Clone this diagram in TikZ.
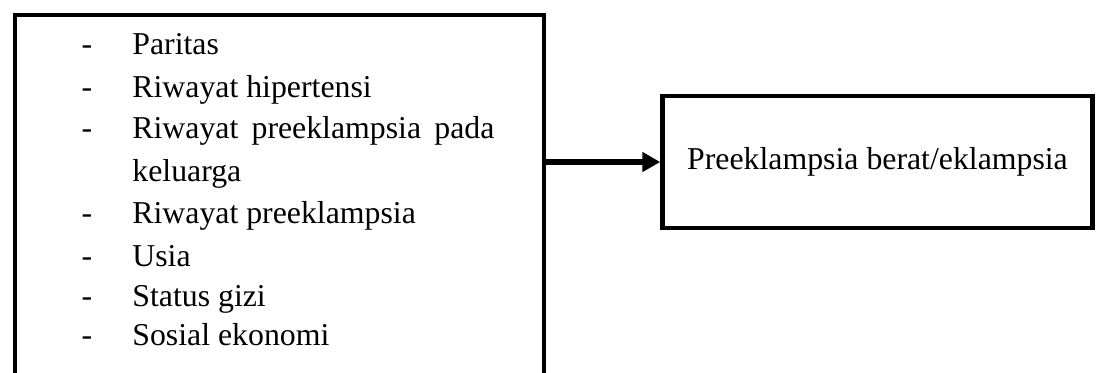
\documentclass[tikz,border=0pt]{standalone}
\usepackage{fontspec}
\setmainfont{Liberation Serif}
\usetikzlibrary{arrows.meta}
\tikzset{
  boxframe/.style={draw, line width=2.2pt, inner sep=0pt},
  itemtext/.style={anchor=base west, inner sep=0pt},
  itemdash/.style={anchor=base, inner sep=0pt},
  flowarrow/.style={line width=3.2pt, -{Triangle[length=9pt,width=9.5pt]}}
}
\begin{document}
\begin{tikzpicture}[x=0.5pt,y=-0.5pt, font=\fontsize{15.9pt}{19pt}\selectfont]
\useasboundingbox (0,0) rectangle (1097,372);
\clip (0,0) rectangle (1097,372);
\node[boxframe, minimum width=264.5pt, minimum height=200pt, anchor=north west] (factors) at (12.5,12.5) {};
\node[boxframe, minimum width=215pt, minimum height=66pt] (outcome) at (877.5,162) {Preeklampsia berat/eklampsia};
\node[itemdash] (d1) at (87,54) {-};
\node[itemtext] (t1) at (132,54) {Paritas};
\node[itemdash] (d2) at (87,97) {-};
\node[itemtext] (t2) at (132,97) {Riwayat hipertensi};
\node[itemdash] (d3) at (87,138) {-};
\node[itemtext] (t3) at (132,138) {\makebox[181pt][s]{Riwayat preeklampsia pada}};
\node[itemtext] (t3b) at (132,181) {keluarga};
\node[itemdash] (d4) at (87,223) {-};
\node[itemtext] (t4) at (132,223) {Riwayat preeklampsia};
\node[itemdash] (d5) at (87,266) {-};
\node[itemtext] (t5) at (132,266) {Usia};
\node[itemdash] (d6) at (87,306) {-};
\node[itemtext] (t6) at (132,306) {Status gizi};
\node[itemdash] (d7) at (87,345) {-};
\node[itemtext] (t7) at (132,345) {Sosial ekonomi};
\draw[flowarrow] (factors.east |- outcome.west) -- (outcome.west);
\end{tikzpicture}
\end{document}
